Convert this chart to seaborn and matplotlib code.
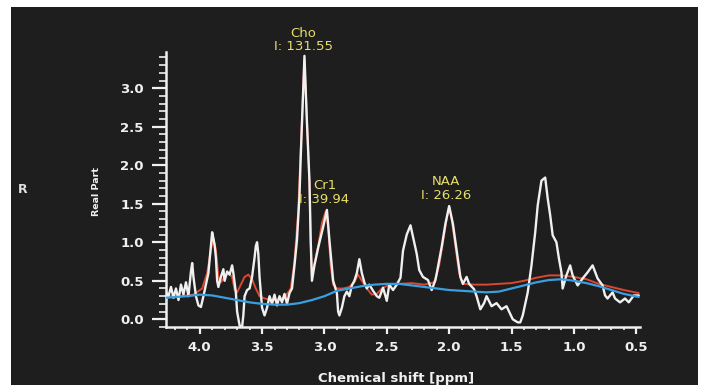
import matplotlib
matplotlib.use("Agg")
import matplotlib.pyplot as plt
from matplotlib.patches import Rectangle
from matplotlib.ticker import MultipleLocator
import pandas as pd
import seaborn as sns

# ---------------- data ----------------
data_ppm = [4.27, 4.25, 4.23, 4.21, 4.19, 4.17, 4.15, 4.13, 4.11, 4.09, 4.07, 4.06, 4.05, 4.03, 4.01,
            3.99, 3.97, 3.95, 3.93, 3.91, 3.90, 3.89, 3.88, 3.87, 3.86, 3.85, 3.83, 3.81, 3.80, 3.78,
            3.76, 3.74, 3.73, 3.72, 3.71, 3.70, 3.68, 3.66, 3.65, 3.64, 3.62, 3.60, 3.58, 3.56, 3.55,
            3.54, 3.53, 3.52, 3.50, 3.48, 3.46, 3.44, 3.42, 3.40, 3.38, 3.36, 3.34, 3.32, 3.30, 3.28,
            3.26, 3.24, 3.22, 3.20, 3.19, 3.17, 3.16, 3.14, 3.12, 3.11, 3.10, 3.08, 3.05, 3.01, 2.98,
            2.96, 2.93, 2.90, 2.89, 2.88, 2.86, 2.84, 2.82, 2.80, 2.78, 2.76, 2.74, 2.72, 2.70, 2.68,
            2.66, 2.64, 2.61, 2.58, 2.56, 2.53, 2.50, 2.48, 2.45, 2.42, 2.39, 2.37, 2.34, 2.31, 2.29,
            2.26, 2.24, 2.21, 2.17, 2.14, 2.11, 2.10, 2.06, 2.03, 2.00, 1.97, 1.94, 1.91, 1.89, 1.86,
            1.84, 1.80, 1.78, 1.75, 1.72, 1.70, 1.66, 1.62, 1.58, 1.54, 1.49, 1.45, 1.43, 1.41, 1.37,
            1.34, 1.31, 1.29, 1.26, 1.23, 1.21, 1.19, 1.17, 1.14, 1.12, 1.10, 1.09, 1.06, 1.03, 1.01,
            0.97, 0.93, 0.89, 0.85, 0.81, 0.77, 0.75, 0.73, 0.69, 0.67, 0.63, 0.59, 0.56, 0.52, 0.48]
data_val = [0.35, 0.30, 0.42, 0.28, 0.40, 0.25, 0.45, 0.32, 0.48, 0.30, 0.62, 0.73, 0.55, 0.30, 0.18,
            0.16, 0.30, 0.45, 0.60, 0.95, 1.13, 1.05, 0.96, 0.80, 0.50, 0.42, 0.55, 0.65, 0.50, 0.62,
            0.58, 0.70, 0.60, 0.47, 0.35, 0.10, -0.08, -0.10, 0.05, 0.30, 0.38, 0.40, 0.55, 0.80, 0.95,
            1.00, 0.85, 0.55, 0.15, 0.05, 0.15, 0.30, 0.20, 0.32, 0.18, 0.30, 0.22, 0.33, 0.20, 0.34,
            0.40, 0.70, 1.03, 1.60, 2.10, 2.97, 3.42, 2.55, 1.80, 1.03, 0.50, 0.70, 0.93, 1.20, 1.42,
            1.03, 0.50, 0.34, 0.10, 0.05, 0.15, 0.30, 0.36, 0.30, 0.44, 0.50, 0.60, 0.78, 0.60, 0.48,
            0.40, 0.45, 0.37, 0.30, 0.28, 0.41, 0.24, 0.45, 0.38, 0.45, 0.54, 0.89, 1.10, 1.22, 1.07,
            0.85, 0.64, 0.55, 0.51, 0.38, 0.51, 0.59, 0.94, 1.24, 1.47, 1.24, 0.90, 0.55, 0.46, 0.55,
            0.46, 0.39, 0.30, 0.13, 0.21, 0.30, 0.17, 0.21, 0.13, 0.17, 0.00, -0.04, -0.04, 0.05, 0.35,
            0.70, 1.13, 1.48, 1.80, 1.84, 1.57, 1.35, 1.09, 1.00, 0.79, 0.61, 0.40, 0.57, 0.70, 0.57,
            0.44, 0.53, 0.61, 0.70, 0.53, 0.44, 0.31, 0.27, 0.35, 0.27, 0.22, 0.27, 0.22, 0.31, 0.31]

fit_ppm = [4.27, 4.15, 4.05, 3.98, 3.94, 3.91, 3.89, 3.87, 3.85, 3.83, 3.80, 3.77, 3.74, 3.72, 3.70,
           3.67, 3.64, 3.61, 3.58, 3.55, 3.52, 3.48, 3.40, 3.32, 3.27, 3.24, 3.21, 3.19, 3.17, 3.16,
           3.14, 3.12, 3.11, 3.10, 3.08, 3.05, 3.02, 2.99, 2.97, 2.95, 2.93, 2.90, 2.85, 2.80, 2.76,
           2.73, 2.70, 2.66, 2.62, 2.58, 2.54, 2.48, 2.40, 2.30, 2.20, 2.12, 2.08, 2.05, 2.02, 2.00,
           1.98, 1.95, 1.92, 1.89, 1.80, 1.70, 1.60, 1.50, 1.40, 1.30, 1.20, 1.10, 1.00, 0.90, 0.80,
           0.70, 0.60, 0.48]
fit_val = [0.30, 0.30, 0.32, 0.40, 0.60, 0.90, 1.05, 0.90, 0.55, 0.48, 0.55, 0.60, 0.55, 0.38, 0.35,
           0.45, 0.55, 0.58, 0.52, 0.40, 0.30, 0.27, 0.25, 0.28, 0.40, 0.75, 1.40, 2.20, 3.00, 3.38,
           2.60, 1.75, 1.00, 0.55, 0.72, 0.95, 1.25, 1.40, 1.20, 0.70, 0.45, 0.40, 0.40, 0.42, 0.48,
           0.58, 0.50, 0.40, 0.32, 0.33, 0.40, 0.45, 0.46, 0.47, 0.45, 0.48, 0.70, 1.00, 1.30, 1.46,
           1.30, 0.95, 0.60, 0.46, 0.45, 0.45, 0.46, 0.47, 0.50, 0.54, 0.57, 0.57, 0.55, 0.52, 0.46,
           0.42, 0.38, 0.34]

base_ppm = [4.27, 4.10, 4.00, 3.90, 3.80, 3.70, 3.60, 3.50, 3.40, 3.30, 3.20, 3.10, 3.00, 2.90, 2.80,
            2.70, 2.60, 2.50, 2.40, 2.30, 2.20, 2.10, 2.00, 1.90, 1.80, 1.70, 1.60, 1.50, 1.40, 1.30,
            1.20, 1.10, 1.00, 0.90, 0.80, 0.70, 0.60, 0.48]
base_val = [0.28, 0.30, 0.32, 0.31, 0.28, 0.25, 0.22, 0.20, 0.19, 0.19, 0.21, 0.25, 0.30, 0.37, 0.40,
            0.43, 0.45, 0.46, 0.46, 0.44, 0.42, 0.40, 0.38, 0.37, 0.36, 0.35, 0.36, 0.40, 0.44, 0.48,
            0.51, 0.52, 0.50, 0.47, 0.43, 0.38, 0.33, 0.29]

peak_names = ["Cho", "Cr1", "NAA"]
peak_integrals = ["131.55", "39.94", "26.26"]
peak_ppm = [3.16, 3.00, 2.00]
peak_top = [3.42, 1.42, 1.47]

x_ticks = [4.0, 3.5, 3.0, 2.5, 2.0, 1.5, 1.0, 0.5]
y_ticks = [0.0, 0.5, 1.0, 1.5, 2.0, 2.5, 3.0]

# ---------------- style ----------------
sns.set_theme(style="dark")
plt.rcParams["font.family"] = ["DejaVu Sans"]

BG = "#1e1e1e"
FG = "#f0f0f0"
YEL = "#e8de6a"
RED = "#d9482f"
BLUE = "#3a9fe0"

fig = plt.figure(figsize=(7.03, 3.85), dpi=100, facecolor="white")
W, H = 703, 385
fig.patches.append(Rectangle((11 / W, 0), (698 - 11) / W, (H - 7) / H,
                             transform=fig.transFigure, facecolor=BG, edgecolor="none", zorder=-10))

ax = fig.add_axes([166 / W, (H - 327) / H, (640 - 166) / W, (327 - 52) / H])
ax.set_facecolor("none")

df_data = pd.DataFrame({"ppm": data_ppm, "val": data_val})
df_fit = pd.DataFrame({"ppm": fit_ppm, "val": fit_val})
df_base = pd.DataFrame({"ppm": base_ppm, "val": base_val})

sns.lineplot(data=df_fit, x="ppm", y="val", ax=ax, color=RED, lw=1.4, sort=False, estimator=None, zorder=2)
sns.lineplot(data=df_data, x="ppm", y="val", ax=ax, color=FG, lw=1.7, sort=False, estimator=None, zorder=3)
sns.lineplot(data=df_base, x="ppm", y="val", ax=ax, color=BLUE, lw=1.6, sort=False, estimator=None, zorder=4)

ax.set_xlim(4.27, 0.47)
ax.set_ylim(-0.10, 3.47)
ax.grid(False)

for s in ["top", "right"]:
    ax.spines[s].set_visible(False)
for s in ["left", "bottom"]:
    ax.spines[s].set_visible(True)
    ax.spines[s].set_color(FG)
    ax.spines[s].set_linewidth(1.8)

ax.set_xticks(x_ticks)
ax.set_xticklabels([f"{t:.1f}" for t in x_ticks])
ax.set_yticks(y_ticks)
ax.set_yticklabels([f"{t:.1f}" for t in y_ticks])
ax.xaxis.set_minor_locator(MultipleLocator(0.1))
ax.yaxis.set_minor_locator(MultipleLocator(0.1))
ax.tick_params(axis="y", which="major", direction="out", length=10, width=1.6, color=FG,
               labelcolor=FG, labelsize=9.5, pad=6, left=True)
ax.tick_params(axis="y", which="minor", direction="out", length=5, width=1.2, color=FG, left=True)
ax.tick_params(axis="x", which="major", direction="out", length=5, width=1.6, color=FG,
               labelcolor=FG, labelsize=9.5, pad=5, bottom=True)
ax.tick_params(axis="x", which="minor", direction="out", length=2.5, width=1.2, color=FG, bottom=True)
for lab in ax.get_xticklabels() + ax.get_yticklabels():
    lab.set_fontweight("bold")

ax.set_xlabel("Chemical shift [ppm]", color=FG, fontsize=9.5, fontweight="bold")
ax.xaxis.set_label_coords((396 - 166) / 474, (327 - 372) / 275)
ax.set_ylabel("")
fig.text(96 / W, 1 - 191 / H, "Real Part", rotation=90, color=FG, fontsize=6.8,
         fontweight="bold", ha="center", va="center")
fig.text(23 / W, 1 - 189 / H, "R", color="#e0e0e0", fontsize=9, fontweight="bold",
         ha="center", va="center")

# peak annotations
label_offsets = [(-1, 2), (0, 3), (-2, 3)]
for name, integ, px, py, off in zip(peak_names, peak_integrals, peak_ppm, peak_top, label_offsets):
    ax.annotate(f"{name}\nI: {integ}", xy=(px, py), xytext=off, textcoords="offset points",
                ha="center", va="bottom", color=YEL, fontsize=9.5, linespacing=1.05)

fig.savefig("out.png", dpi=100, facecolor=fig.get_facecolor())
